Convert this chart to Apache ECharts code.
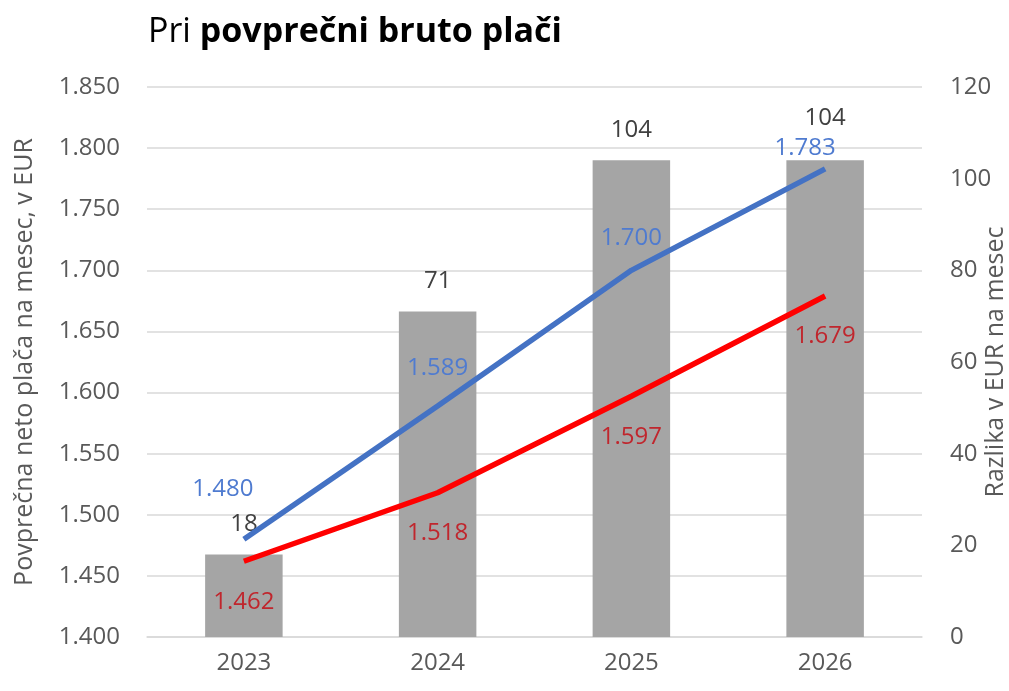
<!DOCTYPE html>
<html>
<head>
<meta charset="utf-8">
<script src="https://cdn.jsdelivr.net/npm/echarts@6/dist/echarts.min.js"></script>
<style>
  html, body { margin: 0; padding: 0; background: #fff; }
  #chart { width: 1009px; height: 691px; }
</style>
</head>
<body>
<div id="chart"></div>
<script>
// podatki
var years = ['2023', '2024', '2025', '2026'];
var razlika = [18, 71, 104, 104];
var netoBruto = [1480, 1589, 1700, 1783];   // modra
var netoDrugo = [1462, 1518, 1597, 1679];   // rdeča
var leftTicks = [1400, 1850, 50];
var rightTicks = [0, 120, 20];

function fmt(v) {
    var s = String(Math.round(v));
    return s.replace(/\B(?=(\d{3})+(?!\d))/g, '.');
}

var font = '"Open Sans", "Noto Sans", sans-serif';

// odmiki oznak (ročno, kot v Excelu)
var blueOffsets = [[-21, -18], [0, -5], [0, 0], [-20, 12]];
var barOffsets = [[0, 0], [0, 0], [0, 0], [0, -12]];

var chart = echarts.init(document.getElementById('chart'));

var option = {
    animation: false,
    textStyle: { fontFamily: font },
    title: {
        left: 143,
        top: 10,
        text: '{n|Pri }{b|povprečni bruto plači}',
        textStyle: {
            rich: {
                n: { fontSize: 34, fontFamily: font, fontWeight: 'normal', color: '#000' },
                b: { fontSize: 34, fontFamily: font, fontWeight: 'bold', color: '#000' }
            }
        }
    },
    grid: { left: 147, right: 87, top: 87, bottom: 54, outerBoundsMode: 'none', containLabel: false },
    xAxis: {
        type: 'category',
        data: years,
        axisLine: { show: true, lineStyle: { color: '#d9d9d9', width: 1.5 } },
        axisTick: { show: false },
        axisLabel: { color: '#595959', fontSize: 24, margin: 14 }
    },
    yAxis: [
        {
            type: 'value',
            min: leftTicks[0],
            max: leftTicks[1],
            interval: leftTicks[2],
            name: 'Povprečna neto plača na mesec, v EUR',
            nameLocation: 'middle',
            nameGap: 110,
            nameMoveOverlap: false,
            nameTextStyle: { color: '#595959', fontSize: 25 },
            axisLine: { show: false },
            axisTick: { show: false },
            axisLabel: { color: '#595959', fontSize: 24, margin: 27, formatter: fmt },
            splitLine: { lineStyle: { color: '#d9d9d9', width: 1.5 } }
        },
        {
            type: 'value',
            min: rightTicks[0],
            max: rightTicks[1],
            interval: rightTicks[2],
            name: 'Razlika v EUR na mesec',
            nameLocation: 'middle',
            nameGap: 61,
            nameRotate: 90,
            nameMoveOverlap: false,
            nameTextStyle: { color: '#595959', fontSize: 25 },
            axisLine: { show: false },
            axisTick: { show: false },
            axisLabel: { color: '#595959', fontSize: 24, margin: 28 },
            splitLine: { show: false }
        }
    ],
    series: [
        {
            name: 'Razlika',
            type: 'bar',
            yAxisIndex: 1,
            barWidth: '40%',
            itemStyle: { color: '#a5a5a5' },
            data: razlika.map(function (v, i) {
                return { value: v, label: { offset: barOffsets[i] } };
            }),
            label: {
                show: true,
                position: 'top',
                distance: 18,
                color: '#404040',
                fontSize: 24
            },
            z: 1
        },
        {
            name: 'Bruto',
            type: 'line',
            yAxisIndex: 0,
            symbol: 'circle',
            symbolSize: 1,
            showSymbol: true,
            lineStyle: { color: '#4472c4', width: 5.5 },
            itemStyle: { color: 'rgba(0,0,0,0)' },
            data: netoBruto,
            label: {
                show: true,
                position: 'top',
                distance: 20,
                color: '#4f7bd0',
                fontSize: 24,
                formatter: function (p) { return fmt(p.value); }
            },
            labelLayout: function (p) {
                var o = blueOffsets[p.dataIndex];
                return { dx: o[0], dy: o[1] };
            },
            z: 3
        },
        {
            name: 'Neto',
            type: 'line',
            yAxisIndex: 0,
            symbol: 'circle',
            symbolSize: 1,
            showSymbol: true,
            lineStyle: { color: '#ff0000', width: 5.5 },
            itemStyle: { color: 'rgba(0,0,0,0)' },
            data: netoDrugo,
            label: {
                show: true,
                position: 'bottom',
                distance: 28,
                color: '#c0262d',
                fontSize: 24,
                formatter: function (p) { return fmt(p.value); }
            },
            z: 3
        }
    ]
};

chart.setOption(option);
</script>
</body>
</html>
